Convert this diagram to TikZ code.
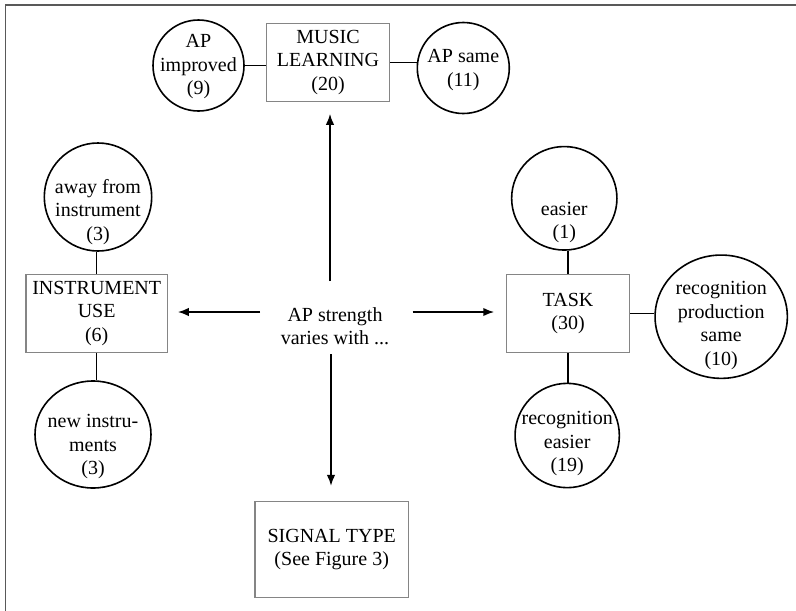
\documentclass[tikz,border=0pt]{standalone}
\usepackage{fontspec}
\setmainfont{Liberation Serif}
\usetikzlibrary{arrows.meta,shapes.geometric}
\begin{document}
\begin{tikzpicture}[x=1pt,y=-1pt,
  every node/.style={font=\fontsize{20}{23.5}\selectfont},
  boxnode/.style={draw=black!48,line width=1.5pt,rectangle,align=center,inner sep=0pt},
  circnode/.style={draw=black,line width=1.6pt,ellipse,inner sep=0pt},
  lbl/.style={align=center,inner sep=0pt,font=\fontsize{20}{23.5}\selectfont},
  link/.style={line width=1.2pt},
  arr/.style={line width=1.8pt,-{Latex[length=11pt,width=8.5pt]}}]
\useasboundingbox (0,0) rectangle (796,611);
\draw[black!65,line width=1.6pt] (5.5,611) -- (5.5,4.8) -- (796,4.8);

% top
\node[boxnode,minimum width=122.6pt,minimum height=78.4pt] (ml) at (328,62.5) {MUSIC\\LEARNING\\(20)};
\node[circnode,minimum width=91pt,minimum height=91pt,
  label={[lbl,yshift=-1.5pt]center:{AP\\improved\\(9)}}] (api) at (198.5,65.5) {};
\node[circnode,minimum width=92pt,minimum height=91pt,
  label={[lbl,yshift=-2pt]center:{AP same\\(11)}}] (aps) at (463.3,68) {};
\draw[link] (api.east) -- (api.east -| ml.west);
\draw[link] (ml.east) -- (ml.east -| aps.west);

% centre
\node[lbl] (ap) at (335,326) {AP strength\\varies with ...};

% left
\node[boxnode,minimum width=141.3pt,minimum height=78.4pt] (iu) at (96.7,313.5) {INSTRUMENT\\USE\\(6)};
\node[circnode,minimum width=107.4pt,minimum height=108pt,
  label={[lbl,yshift=-15pt]center:{away from\\instrument\\(3)}}] (away) at (98,197) {};
\node[circnode,minimum width=116pt,minimum height=107pt,
  label={[lbl,yshift=-12.5pt]center:{new instru-\\ments\\(3)}}] (ni) at (93,434.5) {};
\draw[link] (iu.north) -- (iu.north |- away.south);
\draw[link] (iu.south) -- (iu.south |- ni.north);

% right
\node[boxnode,minimum width=122.6pt,minimum height=78.4pt] (task) at (568,313.5) {TASK\\(30)};
\node[circnode,minimum width=105.3pt,minimum height=103.5pt,
  label={[lbl,yshift=-24pt]center:{easier\\(1)}}] (eas) at (564.3,198.3) {};
\node[circnode,minimum width=132.3pt,minimum height=123.3pt,
  label={[lbl,yshift=-9pt]center:{recognition\\production\\same\\(10)}}] (rps) at (721.2,316.7) {};
\node[circnode,minimum width=104.3pt,minimum height=104.3pt,
  label={[lbl,yshift=-8.5pt]center:{recognition\\easier\\(19)}}] (re) at (567.2,435.5) {};
\draw[link] (task.north) -- (task.north |- eas.south);
\draw[link] (task.south) -- (task.south |- re.north);
\draw[link] (task.east) -- (task.east -| rps.west);

% bottom
\node[boxnode,minimum width=153.3pt,minimum height=95.6pt] (sig) at (331.7,549.5) {SIGNAL TYPE\\(See Figure 3)};

% arrows
\coordinate (tup) at (330,281);
\coordinate (tdown) at (331,354);
\coordinate (tleft) at (260,312);
\coordinate (tright) at (412.7,312);
\draw[arr,shorten >=11.3pt] (tup) -- (tup |- ml.south);
\draw[arr,shorten >=15pt] (tdown) -- (tdown |- sig.north);
\draw[arr,shorten >=9.7pt] (tleft) -- (tleft -| iu.east);
\draw[arr,shorten >=11.7pt] (tright) -- (tright -| task.west);
\end{tikzpicture}
\end{document}
